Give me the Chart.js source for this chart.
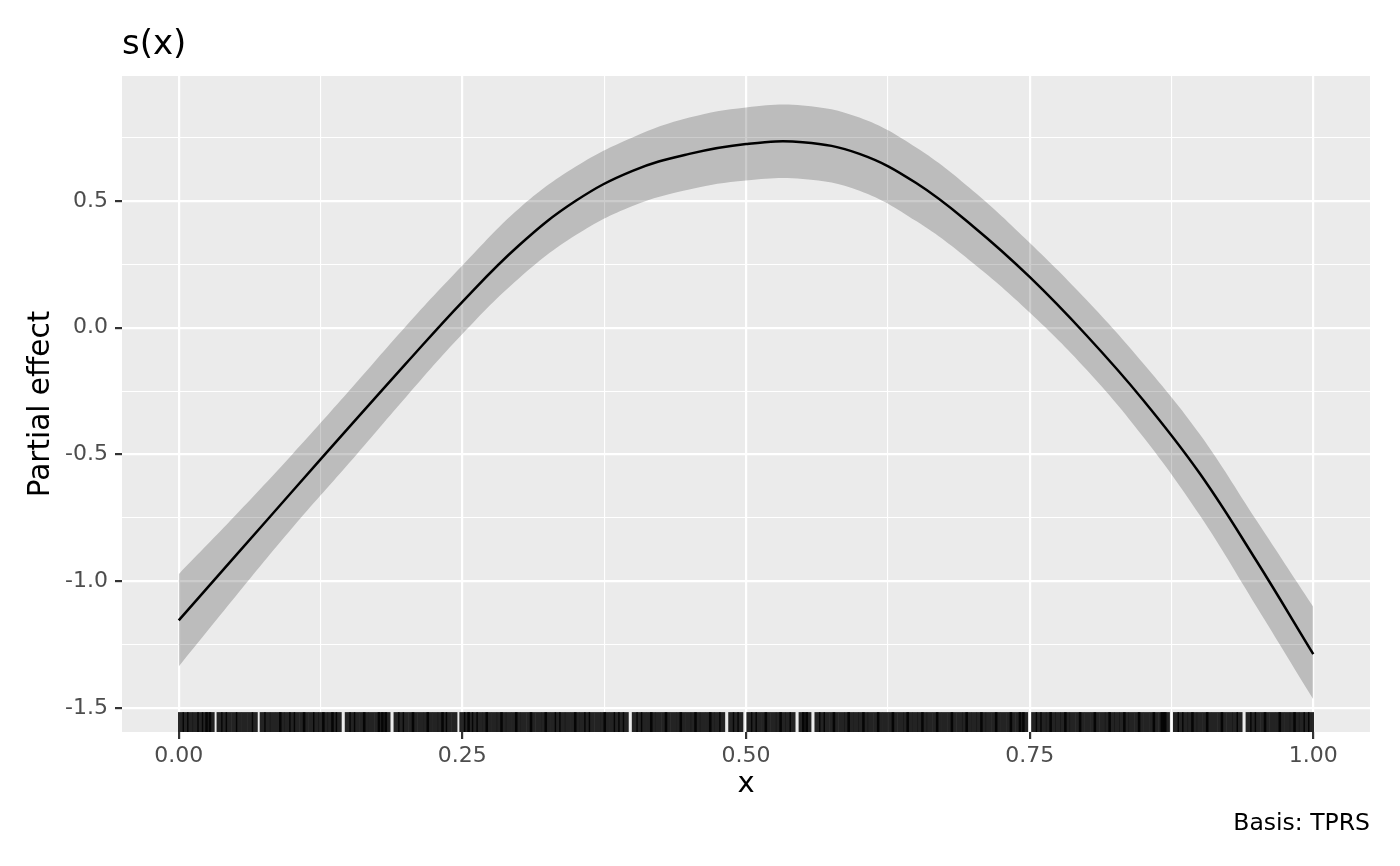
<!DOCTYPE html>
<html>
<head>
<meta charset="utf-8">
<script src="https://cdn.jsdelivr.net/npm/chart.js@4.4.1/dist/chart.umd.min.js"></script>
<style>
  body { margin: 0; background: #fff; }
  #wrap { width: 1400px; height: 866px; }
</style>
</head>
<body>
<div id="wrap"><canvas id="smoothChart"></canvas></div>
<script>
// values
var xs    = [0, 0.05, 0.10, 0.15, 0.20, 0.25, 0.30, 0.35, 0.40, 0.45, 0.50, 0.55, 0.60, 0.65, 0.70, 0.75, 0.80, 0.85, 0.90, 0.95, 1.00];
var fit   = [-1.154, -0.900, -0.646, -0.393, -0.143, 0.102, 0.325, 0.500, 0.618, 0.685, 0.724, 0.731, 0.685, 0.570, 0.400, 0.200, -0.030, -0.285, -0.575, -0.920, -1.287];
var upper = [-0.972, -0.74, -0.50, -0.25, 0.005, 0.245, 0.47, 0.635, 0.75, 0.828, 0.868, 0.876, 0.828, 0.71, 0.54, 0.335, 0.11, -0.14, -0.42, -0.76, -1.10];
var lower = [-1.336, -1.06, -0.79, -0.535, -0.275, -0.025, 0.195, 0.365, 0.48, 0.545, 0.58, 0.586, 0.54, 0.42, 0.255, 0.06, -0.165, -0.43, -0.74, -1.10, -1.465];

// rug of observed x
var rugX = [
  0.002, 0.006, 0.010, 0.015, 0.019, 0.023, 0.026, 0.029,
  0.036, 0.040, 0.044, 0.049, 0.053, 0.058, 0.063, 0.067,
  0.074, 0.078, 0.083, 0.088, 0.091, 0.096, 0.100, 0.104, 0.109, 0.112, 0.117, 0.121, 0.126, 0.129, 0.134, 0.137, 0.141,
  0.149, 0.153, 0.157, 0.162, 0.165, 0.170, 0.175, 0.178, 0.181, 0.184,
  0.192, 0.196, 0.200, 0.205, 0.208, 0.213, 0.218, 0.221, 0.226, 0.231, 0.234, 0.238, 0.243,
  0.250, 0.254, 0.257, 0.261, 0.265, 0.270, 0.273, 0.278, 0.283, 0.286, 0.291, 0.296, 0.299, 0.304, 0.309, 0.312, 0.317,
  0.322, 0.325, 0.330, 0.334, 0.338, 0.343, 0.348, 0.351, 0.356, 0.360, 0.364, 0.369, 0.374, 0.377, 0.382, 0.386, 0.390, 0.394,
  0.402, 0.406, 0.410, 0.415, 0.418, 0.423, 0.428, 0.431, 0.436, 0.441, 0.444, 0.449, 0.454, 0.457, 0.462, 0.467, 0.470, 0.475, 0.479,
  0.487, 0.491, 0.495,
  0.503, 0.507, 0.511, 0.516, 0.519, 0.524, 0.529, 0.532, 0.537, 0.541,
  0.549, 0.552, 0.555,
  0.563, 0.567, 0.571, 0.576, 0.579, 0.584, 0.589, 0.592, 0.597, 0.602, 0.605, 0.610, 0.615, 0.618, 0.623, 0.628,
  0.631, 0.636, 0.641, 0.644, 0.649, 0.654, 0.657, 0.662, 0.667, 0.670, 0.675, 0.680, 0.683, 0.688, 0.693, 0.696,
  0.701, 0.706, 0.709, 0.714, 0.719, 0.722, 0.727, 0.732, 0.735, 0.740, 0.743, 0.746,
  0.754, 0.758, 0.762, 0.767, 0.770, 0.775, 0.780, 0.783, 0.788, 0.793, 0.796, 0.801, 0.806, 0.809, 0.814, 0.819,
  0.822, 0.827, 0.832, 0.835, 0.840, 0.845, 0.848, 0.853, 0.858, 0.861, 0.866, 0.868, 0.871,
  0.879, 0.883, 0.887, 0.892, 0.895, 0.900, 0.905, 0.908, 0.913, 0.918, 0.921, 0.926, 0.931, 0.935,
  0.943, 0.947, 0.951, 0.956, 0.959, 0.964, 0.969, 0.972, 0.977, 0.982, 0.985, 0.990, 0.994, 0.998
];
var rugY = -1.555;

var xMajor = [0, 0.25, 0.5, 0.75, 1];
var xLabels = ['0.00', '0.25', '0.50', '0.75', '1.00'];
var xMinor = [0.125, 0.375, 0.625, 0.875];
var yMajor = [-1.5, -1, -0.5, 0, 0.5];
var yLabels = ['-1.5', '-1.0', '-0.5', '0.0', '0.5'];
var yMinor = [-1.25, -0.75, -0.25, 0.25, 0.75];

function pts(ys) {
    return xs.map(function(x, i) { return {x: x, y: ys[i]}; });
}

var panelBg = {
    id: 'panelBg',
    beforeDraw: function(chart) {
        var a = chart.chartArea, ctx = chart.ctx;
        ctx.save();
        ctx.fillStyle = '#EBEBEB';
        ctx.fillRect(a.left, a.top, a.right - a.left, a.bottom - a.top);
        ctx.restore();
    }
};

var FONT = 'DejaVu Sans';
var tickFont = {family: FONT, size: 22};

function gridWidth(major) {
    return function(c) { return major.indexOf(c.tick.value) >= 0 ? 2.2 : 1.1; };
}
function tickCol(major) {
    return function(c) { return major.indexOf(c.tick.value) >= 0 ? '#333333' : 'rgba(0,0,0,0)'; };
}

var chart = new Chart(document.getElementById('smoothChart').getContext('2d'), {
    type: 'line',
    data: {
        datasets: [{
            label: 'fit',
            data: pts(fit),
            borderColor: '#000',
            borderWidth: 2.5,
            pointRadius: 0,
            tension: 0.4,
            fill: false
        }, {
            label: 'rug',
            type: 'scatter',
            data: rugX.map(function(x) { return {x: x, y: rugY}; }),
            pointStyle: 'line',
            pointRotation: 90,
            pointRadius: 10,
            pointBorderWidth: 6,
            pointBorderColor: 'rgba(0,0,0,0.85)',
            pointBackgroundColor: 'rgba(0,0,0,0.85)'
        }, {
            label: 'lower',
            data: pts(lower),
            borderWidth: 0,
            pointRadius: 0,
            tension: 0.4,
            fill: false
        }, {
            label: 'upper',
            data: pts(upper),
            borderWidth: 0,
            pointRadius: 0,
            tension: 0.4,
            fill: '-1',
            backgroundColor: 'rgba(0,0,0,0.2)'
        }]
    },
    options: {
        responsive: true,
        maintainAspectRatio: false,
        animation: false,
        layout: { padding: { left: 0, right: 30, top: 0, bottom: 0 } },
        plugins: {
            legend: { display: false },
            tooltip: { enabled: false },
            title: {
                display: true,
                text: 's(x)',
                align: 'start',
                fullSize: false,
                color: '#000',
                font: { family: FONT, size: 34, weight: 'normal' },
                padding: { top: 25, bottom: 10.2 }
            },
            subtitle: {
                display: true,
                text: 'Basis: TPRS',
                position: 'bottom',
                align: 'end',
                fullSize: false,
                color: '#000',
                font: { family: FONT, size: 23.5 },
                padding: { top: 7.5, bottom: 28.3 }
            }
        },
        scales: {
            x: {
                type: 'linear',
                min: -0.05,
                max: 1.05,
                afterBuildTicks: function(s) {
                    s.ticks = xMajor.concat(xMinor).map(function(v) { return {value: v}; });
                },
                afterFit: function(s) { s.height = 70; },
                border: { display: false },
                grid: {
                    color: '#FFFFFF',
                    lineWidth: gridWidth(xMajor),
                    tickColor: tickCol(xMajor),
                    tickWidth: 2.2,
                    tickLength: 7
                },
                ticks: {
                    autoSkip: false,
                    maxRotation: 0,
                    color: '#4D4D4D',
                    font: tickFont,
                    padding: 4,
                    callback: function(v) {
                        var i = xMajor.indexOf(v);
                        return i >= 0 ? xLabels[i] : '';
                    }
                },
                title: {
                    display: true,
                    text: 'x',
                    color: '#000',
                    font: { family: FONT, size: 29 },
                    padding: { top: 0, bottom: 0 }
                }
            },
            y: {
                type: 'linear',
                min: -1.594,
                max: 0.992,
                afterBuildTicks: function(s) {
                    s.ticks = yMajor.concat(yMinor).map(function(v) { return {value: v}; });
                },
                afterFit: function(s) { s.width = 122; },
                border: { display: false },
                grid: {
                    color: '#FFFFFF',
                    lineWidth: gridWidth(yMajor),
                    tickColor: tickCol(yMajor),
                    tickWidth: 2.2,
                    tickLength: 7
                },
                ticks: {
                    autoSkip: false,
                    color: '#4D4D4D',
                    font: tickFont,
                    padding: 7,
                    callback: function(v) {
                        var i = yMajor.indexOf(v);
                        return i >= 0 ? yLabels[i] : '';
                    }
                },
                title: {
                    display: true,
                    text: 'Partial effect',
                    color: '#000',
                    font: { family: FONT, size: 29.5 },
                    padding: { top: 24, bottom: 0 }
                }
            }
        }
    },
    plugins: [panelBg]
});
</script>
</body>
</html>
